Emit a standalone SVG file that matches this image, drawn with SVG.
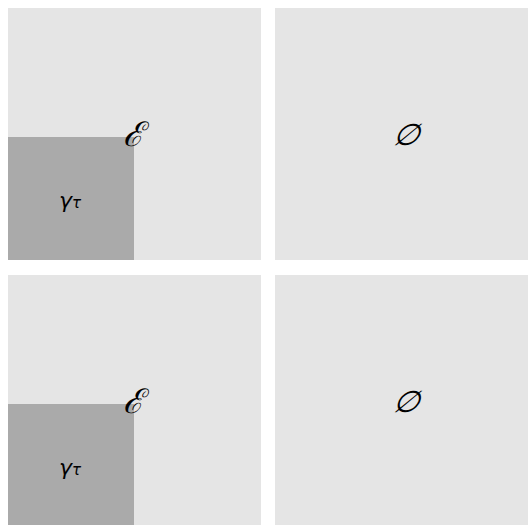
<svg xmlns="http://www.w3.org/2000/svg" width="528" height="525" viewBox="0 0 528 525">
<style>
.panel{fill:#e5e5e5}
.dark{fill:#aaaaaa}
.lbl{font-family:"DejaVu Serif","Liberation Serif",serif;font-style:italic;fill:#000}
.sym{font-family:"DejaVu Sans","Liberation Sans",sans-serif;font-style:italic;fill:#000}
</style>
<rect width="528" height="525" fill="#ffffff"/>
<g id="panel-tl">
<rect class="panel" x="8" y="8" width="253" height="252"/>
<rect class="dark" x="8" y="137" width="126" height="123"/>
<text class="lbl" x="133" y="146" font-size="34" text-anchor="middle">ℰ</text>
<text class="sym" x="70" y="208" font-size="22" text-anchor="middle">γ<tspan font-size="15">τ</tspan></text>
</g>
<g id="panel-tr">
<rect class="panel" x="275" y="8" width="253" height="252"/>
<text class="sym" transform="translate(405,145) skewX(-22)" x="0" y="0" font-size="30" text-anchor="middle">∅</text>
</g>
<g id="panel-bl">
<rect class="panel" x="8" y="275" width="253" height="250"/>
<rect class="dark" x="8" y="404" width="126" height="121"/>
<text class="lbl" x="133" y="413" font-size="34" text-anchor="middle">ℰ</text>
<text class="sym" x="70" y="475" font-size="22" text-anchor="middle">γ<tspan font-size="15">τ</tspan></text>
</g>
<g id="panel-br">
<rect class="panel" x="275" y="275" width="253" height="250"/>
<text class="sym" transform="translate(405,412) skewX(-22)" x="0" y="0" font-size="30" text-anchor="middle">∅</text>
</g>
<g id="connectors"/>
</svg>
